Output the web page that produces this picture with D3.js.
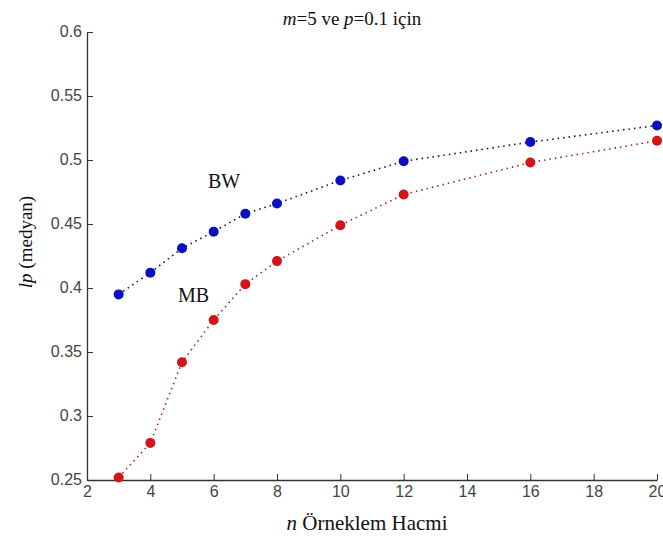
<!DOCTYPE html>
<html>
<head>
<meta charset="utf-8">
<script src="https://cdn.jsdelivr.net/npm/d3@7"></script>
<style>
  body { margin: 0; background: #fff; }
  .serif, .serif tspan { font-family: "Liberation Serif", "Times New Roman", serif; }
</style>
</head>
<body>
<div id="wrapper"></div>
<script>
// data
const nValues = [3, 4, 5, 6, 7, 8, 10, 12, 16, 20];
const bwValues = [0.395, 0.412, 0.431, 0.444, 0.458, 0.466, 0.484, 0.499, 0.514, 0.527];
const mbValues = [0.252, 0.279, 0.342, 0.375, 0.403, 0.421, 0.449, 0.473, 0.498, 0.515];
const xTicks = [2, 4, 6, 8, 10, 12, 14, 16, 18, 20];
const yTicks = [0.25, 0.3, 0.35, 0.4, 0.45, 0.5, 0.55, 0.6];

const serif = "Liberation Serif";
const sans = "Liberation Sans";

// dimensions
const dms = {
  width: 663,
  height: 539,
  margins: { top: 32, right: 6, bottom: 59, left: 87 }
};
dms.innerWidth = dms.width - dms.margins.left - dms.margins.right;
dms.innerHeight = dms.height - dms.margins.top - dms.margins.bottom;

const svg = d3.select("#wrapper")
  .append("svg")
    .attr("width", dms.width)
    .attr("height", dms.height);

const inner = svg.append("g")
  .attr("transform", `translate(${dms.margins.left},${dms.margins.top})`);

// scales
const xScale = d3.scaleLinear().domain([2, 20]).range([0, dms.innerWidth]);
const yScale = d3.scaleLinear().domain([0.25, 0.6]).range([dms.innerHeight, 0]);

// axes (MATLAB style, ticks inward)
const xAxis = inner.append("g")
  .attr("transform", `translate(0,${dms.innerHeight})`)
  .call(d3.axisBottom(xScale).tickValues(xTicks).tickSizeInner(-6).tickSizeOuter(0).tickPadding(6));

const yAxis = inner.append("g")
  .call(d3.axisLeft(yScale).tickValues(yTicks).tickFormat(d3.format("")).tickSizeInner(-6).tickSizeOuter(0).tickPadding(5));

[xAxis, yAxis].forEach(a => {
  a.select(".domain").attr("stroke", "#333").attr("stroke-width", 1.3);
  a.selectAll(".tick line").attr("stroke", "#333");
  a.selectAll(".tick text")
    .attr("font-family", sans)
    .attr("font-size", 16)
    .attr("fill", "#444");
});
yAxis.selectAll(".tick text").attr("dy", "0.25em");

// lines
const series = [
  { name: "BW", values: bwValues, dot: "#0a10c0", line: "#101040" },
  { name: "MB", values: mbValues, dot: "#d41418", line: "#a02828" }
];

const lineGenerator = d3.line()
  .x((d, i) => xScale(nValues[i]))
  .y(d => yScale(d));

series.forEach(s => {
  inner.append("path")
    .attr("d", lineGenerator(s.values))
    .attr("fill", "none")
    .attr("stroke", s.line)
    .attr("stroke-width", 1.6)
    .attr("stroke-dasharray", "1.5,4");

  inner.append("g")
    .selectAll("circle")
    .data(s.values)
    .join("circle")
      .attr("cx", (d, i) => xScale(nValues[i]))
      .attr("cy", d => yScale(d))
      .attr("r", 5)
      .attr("fill", s.dot);
});

// annotations
inner.append("text").attr("class", "serif")
  .attr("x", xScale(5.82)).attr("y", yScale(0.478))
  .attr("font-size", 20).attr("fill", "#111")
  .text("BW");
inner.append("text").attr("class", "serif")
  .attr("x", xScale(4.87)).attr("y", yScale(0.389))
  .attr("font-size", 20).attr("fill", "#111")
  .text("MB");

// helper for mixed italic / upright labels
function addParts(sel, parts) {
  parts.forEach(([txt, it]) => {
    sel.append("tspan")
      .attr("font-family", serif)
      .attr("font-style", it ? "italic" : "normal")
      .text(txt);
  });
}

// title
const title = svg.append("text").attr("class", "serif")
  .attr("x", 352).attr("y", 25)
  .attr("text-anchor", "middle")
  .attr("font-size", 19).attr("fill", "#111");
addParts(title, [["m", true], ["=5 ve ", false], ["p", true], ["=0.1 için", false]]);

// x label
const xLabel = svg.append("text").attr("class", "serif")
  .attr("x", 367).attr("y", 530)
  .attr("text-anchor", "middle")
  .attr("font-size", 21).attr("fill", "#111");
addParts(xLabel, [["n", true], [" Örneklem Hacmi", false]]);

// y label
const yLabel = svg.append("text").attr("class", "serif")
  .attr("transform", "translate(32,242) rotate(-90)")
  .attr("text-anchor", "middle")
  .attr("font-size", 19).attr("fill", "#111");
addParts(yLabel, [["lp", true], [" (medyan)", false]]);
</script>
</body>
</html>
